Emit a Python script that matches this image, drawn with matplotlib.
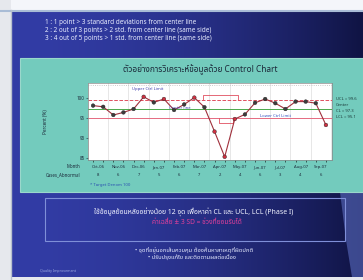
import numpy as np
import matplotlib.pyplot as plt
from matplotlib.patches import Rectangle, Polygon

# data (percent per half-month)
values = [98.1, 97.8, 95.75, 96.4, 97.25, 100.3, 98.9, 99.75, 97.0, 98.4, 100.1, 97.7,
          91.6, 85.3, 94.75, 95.9, 98.8, 99.75, 98.7, 97.25, 99.1, 99.1, 98.7, 93.25]
red_points = [5, 7, 10, 12, 13, 14, 23]
ucl = 99.6
center = 97.25
lcl = 95.1
months = ["Oct-06", "Nov-06", "Dec-06", "Jan-07", "Feb-07", "Mar-07",
          "Apr-07", "May-07", "Jun-07", "Jul-07", "Aug-07", "Sep-07"]
cases = ["8", "6", "7", "5", "6", "7", "2", "4", "6", "3", "4", "6"]
yticks = [100, 95, 90, 85]
rules = ["1 : 1 point > 3 standard deviations from center line",
         "2 : 2 out of 3 points > 2 std. from center line (same side)",
         "3 : 4 out of 5 points > 1 std. from center line (same side)"]

fonts = ["Noto Sans", "DejaVu Sans"]
thai = ["Noto Sans Thai", "Loma", "Garuda", "Norasi", "DejaVu Sans"]
plt.rcParams["font.family"] = fonts

fig = plt.figure(figsize=(3.63, 2.8), dpi=100)
fig.patch.set_facecolor("#e4e7ee")

bg = fig.add_axes([0, 0, 1, 1])
bg.set_xlim(0, 363)
bg.set_ylim(280, 0)
bg.axis("off")

# slide background gradient
gx = np.linspace(0, 1, 200)
grad = np.zeros((2, 200, 3))
c0 = np.array([50, 60, 165]) / 255
c1 = np.array([16, 20, 68]) / 255
for i, t in enumerate(gx):
    grad[:, i] = c0 * (1 - t ** 1.8) + c1 * t ** 1.8
bg.imshow(grad, extent=(12, 363, 277, 11), aspect="auto", zorder=1)
bg.add_patch(Polygon([[340, 192], [363, 192], [363, 277], [352, 277], [346, 240]],
                     closed=True, fc="#5a6cc0", ec="none", alpha=0.6, zorder=2))
bg.add_patch(Rectangle((0, 0), 363, 10, fc="#f4f6fa", ec="none", zorder=2))
bg.plot([0, 363], [10.5, 10.5], color="#a9bcd6", lw=1.5, zorder=3)
bg.add_patch(Rectangle((0, 0), 11, 280, fc="#e6e8ed", ec="none", zorder=2))
bg.plot([11, 11], [10, 280], color="#b8c0cc", lw=1, zorder=3)
bg.add_patch(Rectangle((0, 277), 363, 3, fc="#e6e8ed", ec="none", zorder=2))

for i, r in enumerate(rules):
    bg.text(45, 23 + i * 8, r, color="#e8ecff", fontsize=4.6, va="center", zorder=4)

# teal chart panel
bg.add_patch(Rectangle((20, 58), 343, 134, fc="#73cbbd", ec="#9ad8cc", lw=0.8, zorder=3))
bg.text(200, 70, "ตัวอย่างการวิเคราะห์ข้อมูลด้วย Control Chart", color="#1c2a3a",
        fontsize=6.0, ha="center", va="center", fontweight="bold", zorder=4, family=thai)
bg.text(45, 122, "Percent (%)", rotation=90, color="#1c2a3a", fontsize=3.4,
        ha="center", va="center", zorder=4)
bg.text(80, 167, "Month", color="#1c2a3a", fontsize=3.2, ha="right", va="center", zorder=4)
bg.text(80, 175, "Cases_Abnormal", color="#1c2a3a", fontsize=3.2, ha="right", va="center", zorder=4)
bg.text(90, 185, "* Target Denom 100", color="#2a4fb0", fontsize=3.0, va="center", zorder=4)
for i, s in enumerate(["UCL = 99.6", "Center", "CL = 97.3", "LCL = 95.1"]):
    bg.text(336, 99 + i * 6, s, color="#1c3a3a", fontsize=3.0, va="center", zorder=4)

# chart
ax = fig.add_axes([88 / 363, 1 - 160 / 280, 244 / 363, 77 / 280], zorder=5)
ax.set_facecolor("white")
x = np.arange(len(values))
ax.set_xlim(-0.5, len(values) - 0.4)
ax.set_ylim(84.5, 103.75)
for k in range(0, len(values) + 1, 2):
    ax.axvline(k - 0.5, color="#dddddd", lw=0.5, zorder=1)
ax.axhline(103.2, color="#bbbbbb", lw=0.6, ls=":", zorder=1)
ax.axhline(ucl, color="#e05060", lw=0.7, ls="--", zorder=2)
ax.axhline(center, color="#4aa84a", lw=0.7, zorder=2)
ax.axhline(lcl, color="#e56a80", lw=0.7, zorder=2)
ax.plot([10.9, 10.9, 14.3, 14.3], [ucl, 100.75, 100.75, ucl], color="#e05060", lw=0.6, zorder=2)
ax.plot([12.4, 12.4, 13.8, 13.8], [lcl, 93.75, 93.75, lcl], color="#e05060", lw=0.6, zorder=2)
ax.plot(x, values, color="#a0303c", lw=0.8, zorder=3)
colors = ["#d03040" if i in red_points else "#3c3c3c" for i in range(len(values))]
ax.scatter(x, values, s=7, c=colors, edgecolors="#222222", linewidths=0.3, zorder=4)
ax.text(3.8, 102.2, "Upper Ctrl Limit", color="#4040b0", fontsize=3.0, va="center")
ax.text(7.5, 97.6, "Center line", color="#4040b0", fontsize=3.0, va="center")
ax.text(16.5, 95.5, "Lower Ctrl Limit", color="#3050c0", fontsize=3.0, va="center")

ax.set_yticks(yticks)
ax.set_yticklabels([str(v) for v in yticks])
ax.set_xticks(x)
ax.set_xticklabels([])
ax.tick_params(axis="y", labelsize=3.2, length=1.5, width=0.4, pad=1, colors="#1c2a3a")
ax.tick_params(axis="x", length=1.2, width=0.4)
for sp in ax.spines.values():
    sp.set_color("#888888")
    sp.set_linewidth(0.5)
for i, (m, c) in enumerate(zip(months, cases)):
    ax.text(2 * i + 0.5, -0.09, m, transform=ax.get_xaxis_transform(), fontsize=3.0,
            ha="center", va="center", color="#1c2a3a")
    ax.text(2 * i + 0.5, -0.2, c, transform=ax.get_xaxis_transform(), fontsize=3.0,
            ha="center", va="center", color="#1c2a3a")

# lower text box
bg.add_patch(Rectangle((45, 198), 300, 43, fc="none", ec="#7f8fd8", lw=0.8, zorder=4))
bg.text(194, 212, "ใช้ข้อมูลย้อนหลังอย่างน้อย 12 จุด เพื่อหาค่า CL และ UCL, LCL (Phase I)",
        color="#f0f2ff", fontsize=5.0, ha="center", va="center", zorder=5, family=thai)
bg.text(197, 222, "ค่าเฉลี่ย ± 3 SD = ช่วงที่ยอมรับได้", color="#e0409a", fontsize=4.8,
        ha="center", va="center", zorder=5, family=thai)
bg.text(194, 251, "• จุดที่อยู่นอกเส้นควบคุม ต้องค้นหาสาเหตุที่ผิดปกติ", color="#e8ecff",
        fontsize=4.2, ha="center", va="center", zorder=5, family=thai)
bg.text(192, 258, "• ปรับปรุงแก้ไข และติดตามผลต่อเนื่อง", color="#e8ecff",
        fontsize=4.2, ha="center", va="center", zorder=5, family=thai)
bg.text(40, 271, "Quality Improvement", color="#9aa6e0", fontsize=2.6, va="center", zorder=5)

fig.savefig("out.png", dpi=100, facecolor=fig.get_facecolor())
